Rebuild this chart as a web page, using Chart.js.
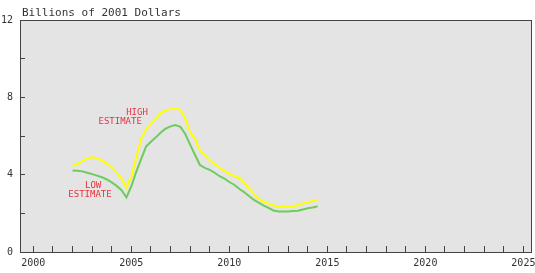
<!DOCTYPE html>
<html>
<head>
<meta charset="utf-8">
<script src="https://cdn.jsdelivr.net/npm/chart.js@4.4.1/dist/chart.umd.min.js"></script>
<style>
  html, body { margin: 0; padding: 0; background: #fff; }
  canvas { display: block; }
</style>
</head>
<body>
<canvas id="myCanvas" width="535" height="273"></canvas>
<script>
// quarterly points, fractional years
const years = [
  2002.0, 2002.25, 2002.5, 2002.75, 2003.0, 2003.25, 2003.5, 2003.75,
  2004.0, 2004.25, 2004.5, 2004.75, 2005.0, 2005.25, 2005.5, 2005.75,
  2006.0, 2006.25, 2006.5, 2006.75, 2007.0, 2007.25, 2007.5, 2007.75,
  2008.0, 2008.25, 2008.5, 2008.75, 2009.0, 2009.25, 2009.5, 2009.75,
  2010.0, 2010.25, 2010.5, 2010.75, 2011.0, 2011.25, 2011.5, 2011.75,
  2012.0, 2012.25, 2012.5, 2012.75, 2013.0, 2013.25, 2013.5, 2013.75,
  2014.0, 2014.25, 2014.5
];
const highEstimate = [
  4.46, 4.55, 4.70, 4.85, 4.90, 4.85, 4.73, 4.57,
  4.38, 4.12, 3.80, 3.35, 3.90, 4.90, 5.85, 6.35,
  6.62, 6.90, 7.17, 7.32, 7.39, 7.43, 7.35, 6.90,
  6.20, 5.85, 5.25, 5.00, 4.75, 4.55, 4.37, 4.20,
  4.05, 3.93, 3.83, 3.60, 3.30, 3.00, 2.75, 2.60,
  2.50, 2.42, 2.35, 2.34, 2.34, 2.37, 2.42, 2.50,
  2.58, 2.63, 2.68
];
const lowEstimate = [
  4.22, 4.20, 4.17, 4.10, 4.03, 3.95, 3.87, 3.75,
  3.60, 3.42, 3.20, 2.82, 3.40, 4.15, 4.80, 5.45,
  5.70, 5.93, 6.18, 6.38, 6.50, 6.57, 6.48, 6.10,
  5.55, 5.02, 4.50, 4.35, 4.25, 4.10, 3.92, 3.80,
  3.62, 3.48, 3.27, 3.10, 2.90, 2.70, 2.55, 2.40,
  2.28, 2.15, 2.10, 2.09, 2.10, 2.12, 2.13, 2.20,
  2.26, 2.30, 2.37
];
const yLabels = [0, 4, 8, 12];
const xLabelEvery = 5;
const title = 'Billions of 2001 Dollars';

// red notes on the plot, in data units
const notes = [
  { text: 'HIGH', x: 2005.29, y: 7.19 },
  { text: 'ESTIMATE', x: 2004.43, y: 6.74 },
  { text: 'LOW', x: 2003.05, y: 3.41 },
  { text: 'ESTIMATE', x: 2002.89, y: 2.95 }
];

function toPoints(vals) {
  return vals.map((v, i) => ({ x: years[i], y: v }));
}

const frame = {
  id: 'frame',
  beforeDraw(chart) {
    const a = chart.chartArea, ctx = chart.ctx;
    ctx.save();
    ctx.fillStyle = '#e4e4e4';
    ctx.fillRect(a.left, a.top, a.right - a.left, a.bottom - a.top);
    ctx.restore();
  },
  afterDraw(chart) {
    const a = chart.chartArea, ctx = chart.ctx;
    const xs = chart.scales.x, ys = chart.scales.y;
    ctx.save();
    ctx.strokeStyle = '#444';
    ctx.lineWidth = 1;
    ctx.strokeRect(a.left + 0.5, a.top + 0.5, a.right - a.left - 1, a.bottom - a.top);
    // title
    ctx.fillStyle = '#333';
    ctx.font = '11px "DejaVu Sans Mono"';
    ctx.textBaseline = 'alphabetic';
    ctx.textAlign = 'left';
    ctx.fillText(title, a.left + 2, a.top - 4);
    // notes
    ctx.fillStyle = '#e8323c';
    ctx.font = '9px "DejaVu Sans Mono"';
    ctx.textAlign = 'center';
    ctx.textBaseline = 'middle';
    notes.forEach(n => {
      ctx.fillText(n.text, xs.getPixelForValue(n.x), ys.getPixelForValue(n.y));
    });
    ctx.restore();
  }
};

const ctx = document.getElementById('myCanvas').getContext('2d');
const chart = new Chart(ctx, {
  type: 'line',
  data: {
    datasets: [{
      label: 'High estimate',
      data: toPoints(highEstimate),
      borderColor: '#ffff00',
      borderWidth: 2,
      pointRadius: 0,
      tension: 0,
      fill: false
    }, {
      label: 'Low estimate',
      data: toPoints(lowEstimate),
      borderColor: '#6ccc5c',
      borderWidth: 2,
      pointRadius: 0,
      tension: 0,
      fill: false
    }]
  },
  plugins: [frame],
  options: {
    responsive: false,
    animation: false,
    layout: { padding: { top: 20, right: 3, left: 0, bottom: 0 } },
    plugins: {
      legend: { display: false },
      tooltip: { enabled: false },
      title: { display: false }
    },
    scales: {
      x: {
        type: 'linear',
        min: 1999.32,
        max: 2025.44,
        border: { display: false },
        grid: { drawOnChartArea: false, tickLength: -6, color: '#444', tickWidth: 1 },
        ticks: {
          stepSize: 1,
          includeBounds: false,
          autoSkip: false,
          maxRotation: 0,
          padding: 11,
          color: '#333',
          font: { family: 'DejaVu Sans Mono', size: 10 },
          callback: v => (v % xLabelEvery === 0 ? String(v) : '')
        },
        afterFit: s => { s.height = 21; s.paddingLeft = 0; s.paddingRight = 0; }
      },
      y: {
        min: 0,
        max: 12,
        border: { display: false },
        grid: { drawOnChartArea: false, tickLength: -5, color: '#444', tickWidth: 1 },
        ticks: {
          stepSize: 2,
          autoSkip: false,
          padding: 12,
          color: '#333',
          font: { family: 'DejaVu Sans Mono', size: 10 },
          callback: v => (yLabels.includes(v) ? String(v) : '')
        },
        afterFit: s => { s.width = 20; s.paddingTop = 0; s.paddingBottom = 0; }
      }
    }
  }
});
</script>
</body>
</html>
